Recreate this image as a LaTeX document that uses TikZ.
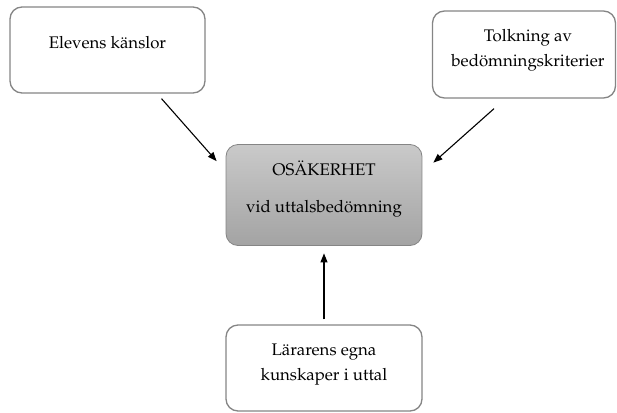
\documentclass[tikz,border=0pt]{standalone}
\usepackage[T1]{fontenc}
\usepackage{mathpazo}
\usepackage{xcolor}
\usetikzlibrary{positioning, calc, arrows.meta}
\definecolor{kant}{HTML}{858585}

\begin{document}
\begin{tikzpicture}[x=1pt, y=-1pt, >={Triangle[length=9pt, width=7pt]},
				ruta/.style={draw=kant, line width=1.3pt, rounded corners=12pt, fill=white},
				txt/.style={font=\fontsize{16.8}{25}\selectfont, align=center, inner sep=0pt},
				pil/.style={->, line width=1.1pt}]
				\useasboundingbox (0,0) rectangle (617,412);
				
				%Rutor:
				\node[ruta, minimum width=195pt, minimum height=86pt] (elev) at (107.5,50) {};
				\node[ruta, minimum width=183pt, minimum height=87pt] (tolk) at (524,54.5) {};
				\node[ruta, minimum width=196pt, minimum height=101pt, draw=kant, line width=0.8pt,
				      top color=gray!42, bottom color=gray!72] (osak) at (324,195) {};
				\node[ruta, minimum width=196pt, minimum height=86pt] (larar) at (324,368) {};
				
				%Texter:
				\node[txt] (elevtxt) at (107.5,43) {Elevens känslor};
				\node[txt] (tolktxt) at (528,50) {Tolkning av\\bedömningskriterier};
				\node[txt] (osaktxt) at (324,188.5) {OSÄKERHET\\[12pt]vid uttalsbedömning};
				\node[txt] (larartxt) at (324,365) {Lärarens egna\\kunskaper i uttal};
				
				%Pilar:
				\draw[pil] ($(elev.south)+(54,5)$) -- ($(osak.north west)+(-9,17)$);
				\draw[pil] ($(tolk.south)+(-30,10)$) -- ($(osak.north east)+(11,18.5)$);
				\draw[pil, shorten <=5pt, shorten >=7.5pt] (larar) -- (osak);
\end{tikzpicture}
\end{document}
